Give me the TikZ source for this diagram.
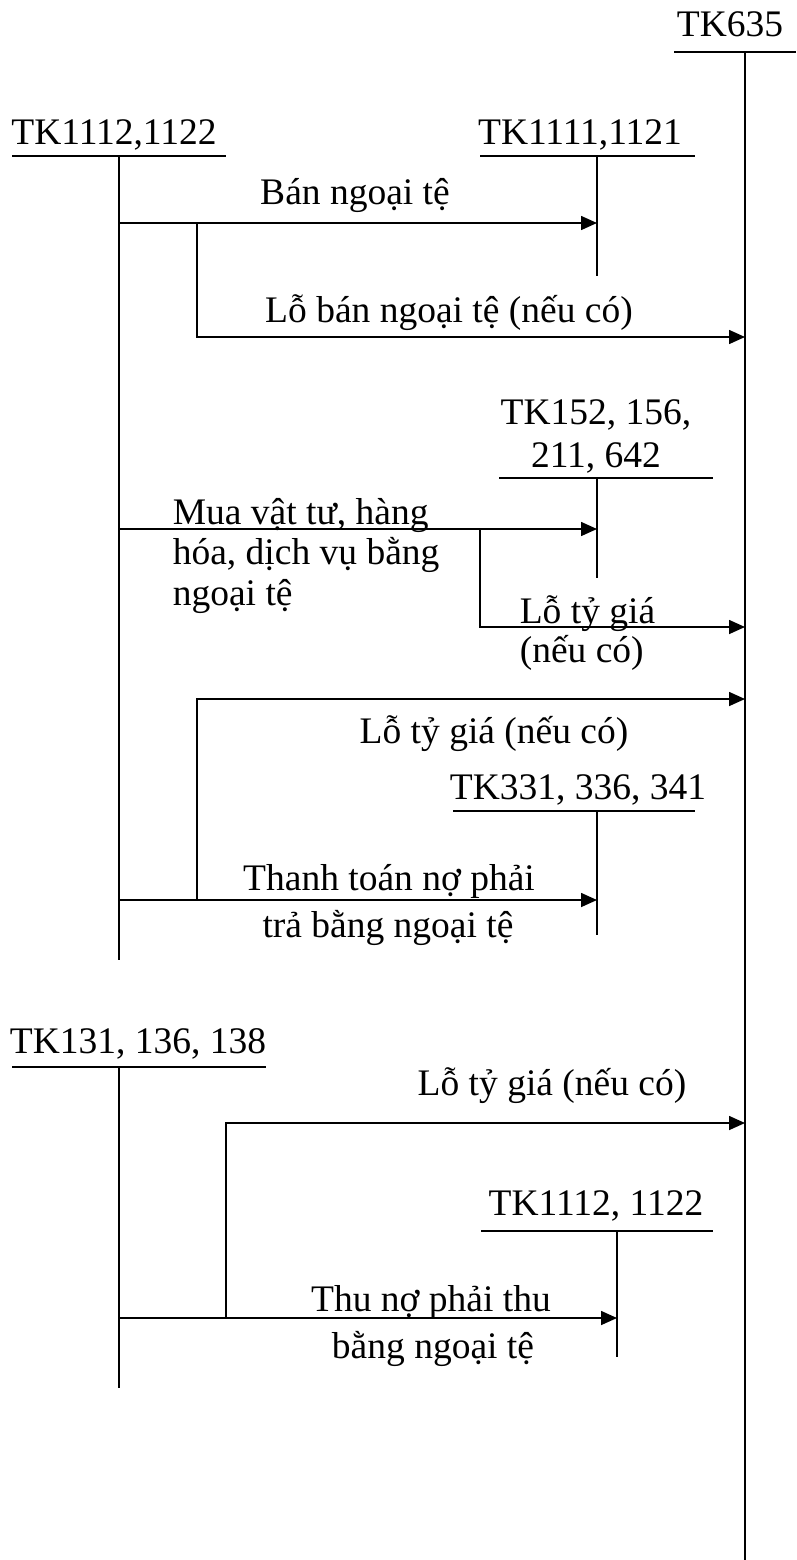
\documentclass[tikz,border=0pt]{standalone}
\usepackage{fontspec}
\setmainfont{Liberation Serif}
\usetikzlibrary{arrows.meta}
\begin{document}
\begin{tikzpicture}[x=1pt,y=-1pt,line width=1.6pt,
  lbl/.style={font=\fontsize{37.5}{44}\selectfont,inner sep=0pt,anchor=base},
  lbll/.style={lbl,anchor=base west},
  arr/.style={-{Triangle[length=16pt,width=14pt]}}]
\useasboundingbox (0,0) rectangle (796,1560);

% ---------- account titles ----------
\node[lbl] (t635) at (730,37) {TK635};
\node[lbl] (t1112) at (114,145) {TK1112,1122};
\node[lbl] (t1111) at (580,145) {TK1111,1121};
\node[lbl] (t152a) at (596,424) {TK152, 156,};
\node[lbl] (t152b) at (596,467) {211, 642};
\node[lbl] (t331) at (578,799) {TK331, 336, 341};
\node[lbl] (t131) at (138,1053) {TK131, 136, 138};
\node[lbl] (t1112b) at (596,1215) {TK1112, 1122};

% ---------- T-account lines ----------
\coordinate (h635l) at (674,52);  \coordinate (h635r) at (796,52);
\coordinate (v635t) at (745,52);  \coordinate (v635b) at (745,1560);
\draw (h635l) -- (h635r); \draw (v635t) -- (v635b);

\coordinate (h1l) at (12,156);  \coordinate (h1r) at (226,156);
\coordinate (v1t) at (119,156); \coordinate (v1b) at (119,960);
\draw (h1l) -- (h1r); \draw (v1t) -- (v1b);

\coordinate (h2l) at (480,156);  \coordinate (h2r) at (695,156);
\coordinate (v2t) at (597,156);  \coordinate (v2b) at (597,276);
\draw (h2l) -- (h2r); \draw (v2t) -- (v2b);

\coordinate (h3l) at (499,478);  \coordinate (h3r) at (713,478);
\coordinate (v3t) at (597,478);  \coordinate (v3b) at (597,578);
\draw (h3l) -- (h3r); \draw (v3t) -- (v3b);

\coordinate (h4l) at (453,811);  \coordinate (h4r) at (695,811);
\coordinate (v4t) at (597,811);  \coordinate (v4b) at (597,935);
\draw (h4l) -- (h4r); \draw (v4t) -- (v4b);

\coordinate (h5l) at (12,1067);  \coordinate (h5r) at (266,1067);
\coordinate (v5t) at (119,1067); \coordinate (v5b) at (119,1388);
\draw (h5l) -- (h5r); \draw (v5t) -- (v5b);

\coordinate (h6l) at (481,1231);  \coordinate (h6r) at (713,1231);
\coordinate (v6t) at (617,1231);  \coordinate (v6b) at (617,1357);
\draw (h6l) -- (h6r); \draw (v6t) -- (v6b);

% ---------- arrows ----------
% 1 Ban ngoai te
\coordinate (s1) at (119,223); \coordinate (e1) at (597,223);
\draw[arr] (s1) -- (e1);
\node[lbl] (l1) at (355,204) {Bán ngoại tệ};
% 2 Lo ban ngoai te
\coordinate (s2) at (197,223); \coordinate (e2) at (745,337);
\draw[arr] (s2) |- (e2);
\node[lbl] (l2) at (449,322) {Lỗ bán ngoại tệ (nếu có)};
% 3 Mua vat tu
\coordinate (s3) at (119,529); \coordinate (e3) at (597,529);
\draw[arr] (s3) -- (e3);
\node[lbll] (l3a) at (172,524) {Mua vật tư, hàng};
\node[lbll] (l3b) at (172,564) {hóa, dịch vụ bằng};
\node[lbll] (l3c) at (172,605) {ngoại tệ};
% 4 Lo ty gia
\coordinate (s4) at (480,529); \coordinate (e4) at (745,627);
\draw[arr] (s4) |- (e4);
\node[lbll] (l4a) at (519,623) {Lỗ tỷ giá};
\node[lbll] (l4b) at (519,662) {(nếu có)};
% 5 Lo ty gia (thanh toan)
\coordinate (s5) at (197,900); \coordinate (e5) at (745,699);
\draw[arr] (s5) |- (e5);
\node[lbl] (l5) at (494,743) {Lỗ tỷ giá (nếu có)};
% 6 Thanh toan
\coordinate (s6) at (119,900); \coordinate (e6) at (597,900);
\draw[arr] (s6) -- (e6);
\node[lbl] (l6a) at (389,890) {Thanh toán nợ phải};
\node[lbl] (l6b) at (388,937) {trả bằng ngoại tệ};
% 7 Lo ty gia (thu no)
\coordinate (s7) at (226,1318); \coordinate (e7) at (745,1123);
\draw[arr] (s7) |- (e7);
\node[lbl] (l7) at (552,1095) {Lỗ tỷ giá (nếu có)};
% 8 Thu no
\coordinate (s8) at (119,1318); \coordinate (e8) at (617,1318);
\draw[arr] (s8) -- (e8);
\node[lbl] (l8a) at (431,1311) {Thu nợ phải thu};
\node[lbl] (l8b) at (433,1358) {bằng ngoại tệ};
\end{tikzpicture}
\end{document}
